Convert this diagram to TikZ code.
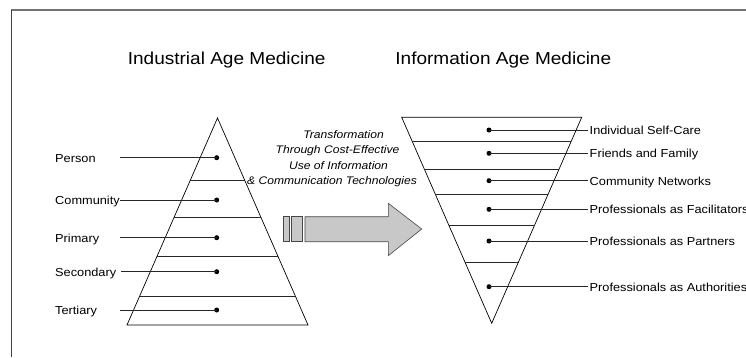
\documentclass[tikz,border=0pt]{standalone}
\usepackage{fontspec}
\setmainfont{Liberation Sans}[FakeStretch=1.1]
\usetikzlibrary{calc}
\definecolor{framegray}{RGB}{115,115,115}
\definecolor{arrowfill}{RGB}{200,200,200}
\definecolor{arrowline}{RGB}{70,70,70}
\tikzset{
  title/.style={font=\fontsize{17.3}{20}\selectfont, anchor=base, inner sep=0pt},
  lbl/.style={font=\fontsize{11.6}{14}\selectfont, inner sep=0pt},
  dot/.style={circle, fill=black, inner sep=0pt, minimum size=5pt},
  conn/.style={draw=black!85, line width=0.8pt},
  tri/.style={draw=black, line width=0.7pt},
  band/.style={draw=black!85, line width=0.8pt},
  bigarrow/.style={draw=arrowline, fill=arrowfill, line width=0.6pt},
  note/.style={font=\fontsize{11}{15.3}\selectfont\itshape, align=center, inner sep=0pt}
}
\begin{document}
\begin{tikzpicture}[x=1pt,y=-1pt]
\useasboundingbox (0,0) rectangle (746,357);
% frame
\draw[framegray, line width=1.6pt] (11,9.7) -- (746,9.7);
\draw[black!75, line width=0.9pt] (11,9.7) -- (11,357);
% titles
\node[title] (t1) at (226.7,64) {Industrial Age Medicine};
\node[title] (t2) at (503.3,64) {Information Age Medicine};
% left triangle
\coordinate (LA) at (217.5,118);
\coordinate (LBL) at (127,325);
\coordinate (LBR) at (308,325);
\draw[tri] (LA) -- (LBL) -- (LBR) -- cycle;
\foreach \f in {0.3029,0.4783,0.6667,0.8599}
  \draw[band] ($(LA)!\f!(LBL)$) -- ($(LA)!\f!(LBR)$);
% left dots and labels
\node[dot] (ld1) at (216.7,157.7) {};
\node[dot] (ld2) at (216.7,200) {};
\node[dot] (ld3) at (216.7,237.7) {};
\node[dot] (ld4) at (216.7,271.7) {};
\node[dot] (ld5) at (216.7,310) {};
\node[lbl, anchor=base west] (ll1) at (55,162.3) {Person};
\node[lbl, anchor=base west] (ll2) at (55,204.6) {Community};
\node[lbl, anchor=base west] (ll3) at (55,242.3) {Primary};
\node[lbl, anchor=base west] (ll4) at (55,276.3) {Secondary};
\node[lbl, anchor=base west] (ll5) at (55,314.6) {Tertiary};
\coordinate (ls1) at (120,157.7);
\coordinate (ls2) at (120,200);
\coordinate (ls3) at (120,237.7);
\coordinate (ls4) at (121,271.7);
\coordinate (ls5) at (120,310);
\foreach \i in {1,...,5}
  \draw[conn] (ls\i) -- (ld\i.center);
% right triangle
\coordinate (RA) at (491.7,323.3);
\coordinate (RTL) at (401.7,117.3);
\coordinate (RTR) at (581.7,117.3);
\draw[tri] (RTL) -- (RTR) -- (RA) -- cycle;
\foreach \f in {0.8850,0.7490,0.6277,0.4772,0.2976}
  \draw[band] ($(RA)!\f!(RTL)$) -- ($(RA)!\f!(RTR)$);
% right dots and labels
\node[dot] (rd1) at (489,130) {};
\node[dot] (rd2) at (489,153.3) {};
\node[dot] (rd3) at (489,180.7) {};
\node[dot] (rd4) at (489,209.3) {};
\node[dot] (rd5) at (489,241) {};
\node[dot] (rd6) at (489,286.7) {};
\node[lbl, anchor=base west] (rl1) at (589.5,134.6) {Individual Self-Care};
\node[lbl, anchor=base west] (rl2) at (589.5,157.9) {Friends and Family};
\node[lbl, anchor=base west] (rl3) at (589.5,185.3) {Community Networks};
\node[lbl, anchor=base west] (rl4) at (589.5,213.9) {Professionals as Facilitators};
\node[lbl, anchor=base west] (rl5) at (589.5,245.6) {Professionals as Partners};
\node[lbl, anchor=base west] (rl6) at (589.5,291.3) {Professionals as Authorities};
\foreach \i in {1,...,6}
  \draw[conn] (rd\i.center) -- ($(rl\i.west |- rd\i)+(-1.5,0)$);
% transformation text
\node[note] (note) at (337.5,158.5) {\hspace*{12pt}Transformation\\Through Cost-Effective\\\hspace*{2pt}Use of Information\\\& Communication Technologies\hspace*{11pt}};
% arrow
\draw[bigarrow] (283.3,216.7) rectangle (289,241.7);
\draw[bigarrow] (291.7,216.7) rectangle (302.3,241.7);
\draw[bigarrow] (305,216.7) -- (388.3,216.7) -- (388.3,203.3) -- (421.7,229) -- (388.3,255.7) -- (388.3,241.7) -- (305,241.7) -- cycle;
\end{tikzpicture}
\end{document}
